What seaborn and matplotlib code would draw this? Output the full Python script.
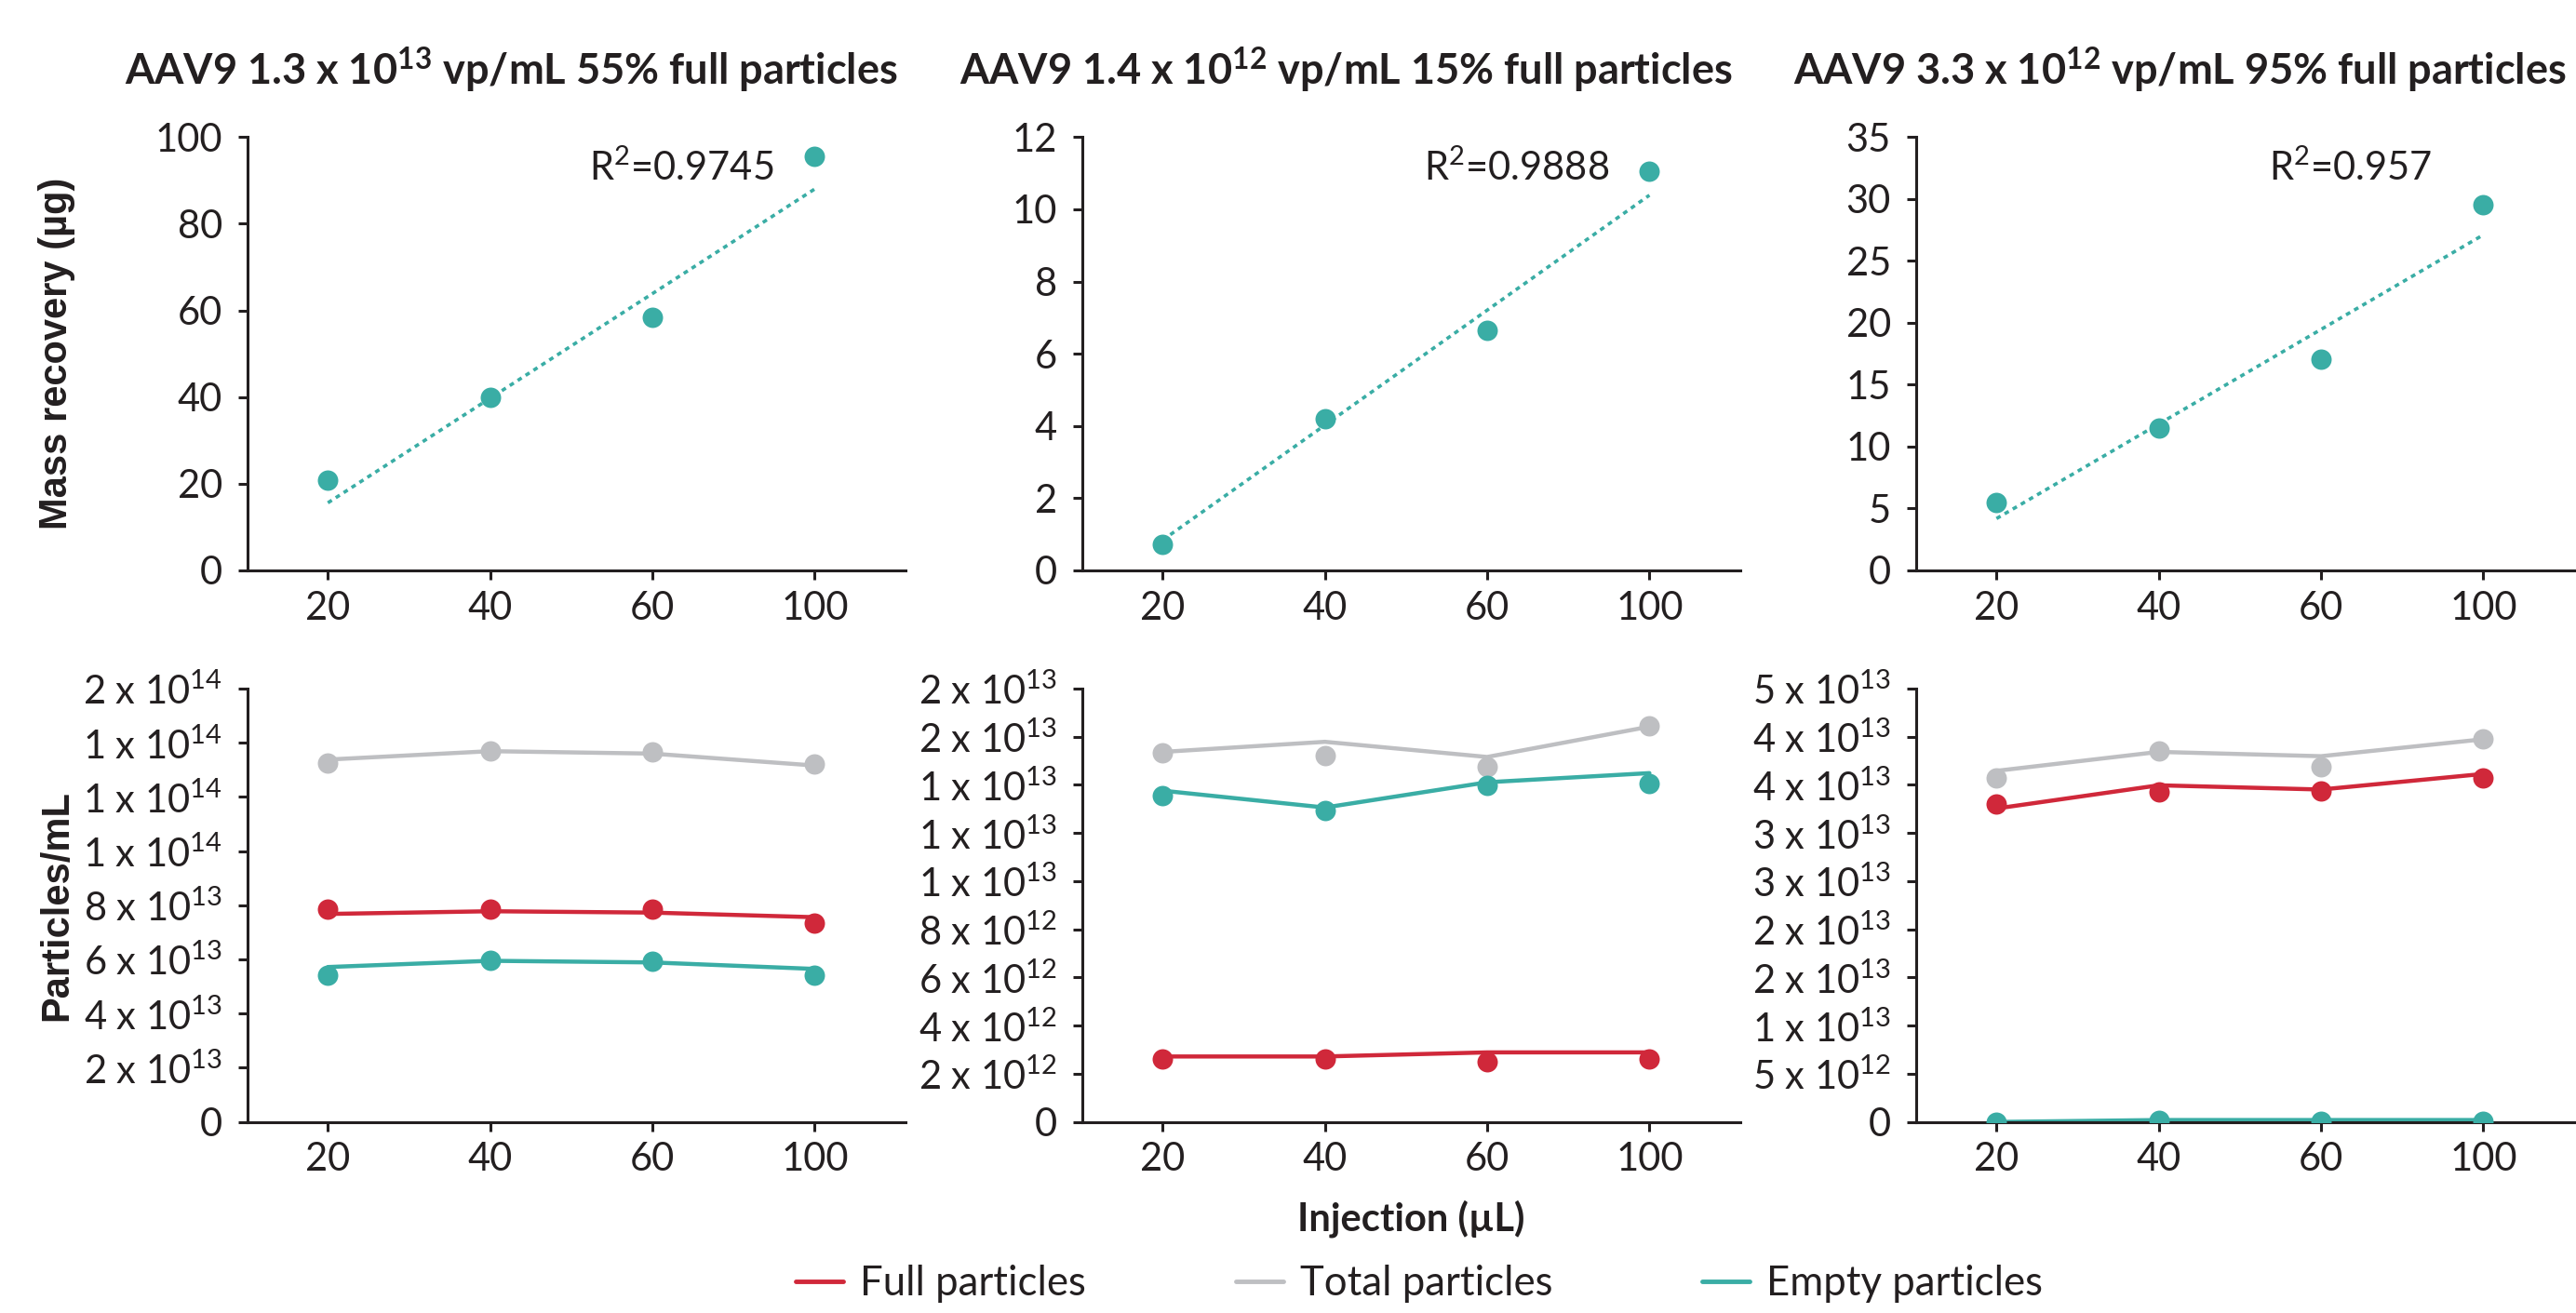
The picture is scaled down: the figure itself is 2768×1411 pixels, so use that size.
import math
import numpy as np
import pandas as pd
import matplotlib
matplotlib.use("Agg")
import matplotlib.pyplot as plt
from matplotlib.lines import Line2D
from matplotlib.ticker import MultipleLocator, FuncFormatter
import seaborn as sns

# ---------------- data ----------------
injection = ["20", "40", "60", "100"]

titles = [
    r"AAV9 1.3 x 10$^{\mathregular{13}}$ vp/mL 55% full particles",
    r"AAV9 1.4 x 10$^{\mathregular{12}}$ vp/mL 15% full particles",
    r"AAV9 3.3 x 10$^{\mathregular{12}}$ vp/mL 95% full particles",
]

mass_recovery_1 = [20.9, 39.9, 58.5, 95.5]
mass_recovery_2 = [0.72, 4.20, 6.65, 11.06]
mass_recovery_3 = [5.47, 11.51, 17.05, 29.56]
trend_ends_1 = [15.6, 88.0]     # trendline value at 20 and at 100 µL
trend_ends_2 = [0.84, 10.39]
trend_ends_3 = [4.19, 27.1]
r2_values = ["0.9745", "0.9888", "0.957"]

full_pts_1 = [7.87e13, 7.85e13, 7.86e13, 7.34e13]
full_line_1 = [7.68e13, 7.78e13, 7.73e13, 7.56e13]
total_pts_1 = [1.324e14, 1.369e14, 1.366e14, 1.320e14]
total_line_1 = [1.338e14, 1.369e14, 1.360e14, 1.316e14]
empty_pts_1 = [5.41e13, 5.98e13, 5.95e13, 5.41e13]
empty_line_1 = [5.72e13, 5.95e13, 5.89e13, 5.65e13]

full_pts_2 = [2.63e12, 2.63e12, 2.49e12, 2.63e12]
full_line_2 = [2.72e12, 2.72e12, 2.89e12, 2.89e12]
total_pts_2 = [1.533e13, 1.523e13, 1.474e13, 1.644e13]
total_line_2 = [1.537e13, 1.579e13, 1.516e13, 1.642e13]
empty_pts_2 = [1.355e13, 1.293e13, 1.397e13, 1.407e13]
empty_line_2 = [1.376e13, 1.306e13, 1.411e13, 1.449e13]

full_pts_3 = [3.299e13, 3.430e13, 3.439e13, 3.571e13]
full_line_3 = [3.255e13, 3.496e13, 3.452e13, 3.614e13]
total_pts_3 = [3.571e13, 3.856e13, 3.693e13, 3.974e13]
total_line_3 = [3.646e13, 3.843e13, 3.798e13, 3.974e13]
empty_pts_3 = [0.0, 2e11, 1e11, 1e11]
empty_line_3 = [0.0, 2e11, 2e11, 2e11]

top_ymax = [100, 12, 35]
top_step = [20, 2, 5]
bottom_ymax = [1.6e14, 1.8e13, 4.5e13]
bottom_step = [2e13, 2e12, 5e12]

series_names = ["Full particles", "Total particles", "Empty particles"]

# ---------------- style ----------------
sns.set_style("ticks")
TEXT = "#231F20"
TEAL = "#3AADA5"
RED = "#D0283A"
GRAY = "#BEBFC2"
plt.rcParams["font.family"] = ["Lato", "DejaVu Sans"]
plt.rcParams.update({
    "text.color": TEXT,
    "axes.edgecolor": TEXT,
    "axes.labelcolor": TEXT,
    "xtick.color": TEXT,
    "ytick.color": TEXT,
    "axes.linewidth": 2.2,
})
series_colors = [RED, GRAY, TEAL]

W, H = 2768, 1411
fig = plt.figure(figsize=(W / 100, H / 100), dpi=100)

lefts_px = [266, 1163, 2059]
width_px = 707
top_rows_px = [(147.3, 613.0), (740.0, 1205.7)]

pos = np.arange(len(injection))
XLIM = (-0.495, 3.56)
MARKER_S = 250


def make_ax(col, row):
    y0, y1 = top_rows_px[row]
    ax = fig.add_axes([lefts_px[col] / W, 1 - y1 / H, width_px / W, (y1 - y0) / H])
    sns.despine(ax=ax)
    ax.set_xlim(*XLIM)
    ax.set_xticks(pos)
    ax.set_xticklabels(injection)
    ax.tick_params(axis="both", labelsize=30, length=7.5, width=2.2, direction="out")
    ax.tick_params(axis="y", pad=12)
    ax.tick_params(axis="x", pad=8)
    ax.grid(False)
    return ax


def sci_label(v, _pos=None):
    if v == 0:
        return "0"
    e = int(math.floor(math.log10(abs(v)) + 1e-9))
    m = int(math.floor(v / 10 ** e + 0.5 + 1e-9))
    if m == 10:
        m, e = 1, e + 1
    return r"%d x 10$^{\mathregular{%d}}$" % (m, e)


mass = [mass_recovery_1, mass_recovery_2, mass_recovery_3]
trends = [trend_ends_1, trend_ends_2, trend_ends_3]
pts = [
    (full_pts_1, total_pts_1, empty_pts_1),
    (full_pts_2, total_pts_2, empty_pts_2),
    (full_pts_3, total_pts_3, empty_pts_3),
]
lines = [
    (full_line_1, total_line_1, empty_line_1),
    (full_line_2, total_line_2, empty_line_2),
    (full_line_3, total_line_3, empty_line_3),
]

top_axes, bottom_axes = [], []
for c in range(3):
    # ----- top row: mass recovery -----
    ax = make_ax(c, 0)
    df = pd.DataFrame({"x": pos, "y": mass[c]})
    tdf = pd.DataFrame({"x": [pos[0], pos[-1]], "y": trends[c]})
    sns.lineplot(data=tdf, x="x", y="y", ax=ax, color=TEAL, lw=2.6,
                 linestyle=(0, (1.4, 1.4)), legend=False, zorder=2)
    sns.scatterplot(data=df, x="x", y="y", ax=ax, color=TEAL, s=MARKER_S,
                    linewidth=0, legend=False, zorder=3)
    ax.set_ylim(0, top_ymax[c])
    ax.yaxis.set_major_locator(MultipleLocator(top_step[c]))
    ax.set_xlabel("")
    ax.set_ylabel("")
    ax.text(2.18, 0.90, r"R$^{\mathregular{2}}$=" + r2_values[c],
            transform=ax.get_xaxis_transform(), ha="center", va="baseline",
            fontsize=30)
    top_axes.append(ax)

    # ----- bottom row: particles/mL -----
    axb = make_ax(c, 1)
    for k in range(3):
        ldf = pd.DataFrame({"x": pos, "y": lines[c][k]})
        pdf = pd.DataFrame({"x": pos, "y": pts[c][k]})
        sns.lineplot(data=ldf, x="x", y="y", ax=axb, color=series_colors[k],
                     lw=3.2, legend=False, zorder=2)
        sns.scatterplot(data=pdf, x="x", y="y", ax=axb, color=series_colors[k],
                        s=MARKER_S, linewidth=0, legend=False, zorder=3)
    axb.set_ylim(0, bottom_ymax[c])
    axb.yaxis.set_major_locator(MultipleLocator(bottom_step[c]))
    axb.yaxis.set_major_formatter(FuncFormatter(sci_label))
    axb.set_xlabel("")
    axb.set_ylabel("")
    bottom_axes.append(axb)

    # title
    p = ax.get_position()
    fig.text(p.x0 + p.width / 2 - 70 / W, 1 - 91 / H, titles[c],
             ha="center", va="baseline", fontsize=32.5, fontweight="bold")

# y labels
for ax, lab in [(top_axes[0], "Mass recovery (µg)"), (bottom_axes[0], "Particles/mL")]:
    ax.set_ylabel(lab, fontsize=30, fontweight="bold",
                  family=["Liberation Sans", "DejaVu Sans"])
    ax.yaxis.label.set_va("center")
    ax.yaxis.set_label_coords((61 - 266) / width_px, 0.5)

# x label
bottom_axes[1].set_xlabel("Injection (µL)", fontsize=30, fontweight="bold")
bottom_axes[1].xaxis.label.set_va("center")
bottom_axes[1].xaxis.set_label_coords(0.5, (1205.7 - 1310) / (1205.7 - 740))

# legend
handles = [Line2D([], [], color=col, lw=3.5) for col in series_colors]
fig.legend(handles, series_names, loc="center", ncol=3, frameon=False,
           bbox_to_anchor=(1525 / W, 1 - 1380 / H), fontsize=31.5,
           handlelength=1.17, handletextpad=0.41, columnspacing=3.68)

fig.savefig("out.png", dpi=100)
